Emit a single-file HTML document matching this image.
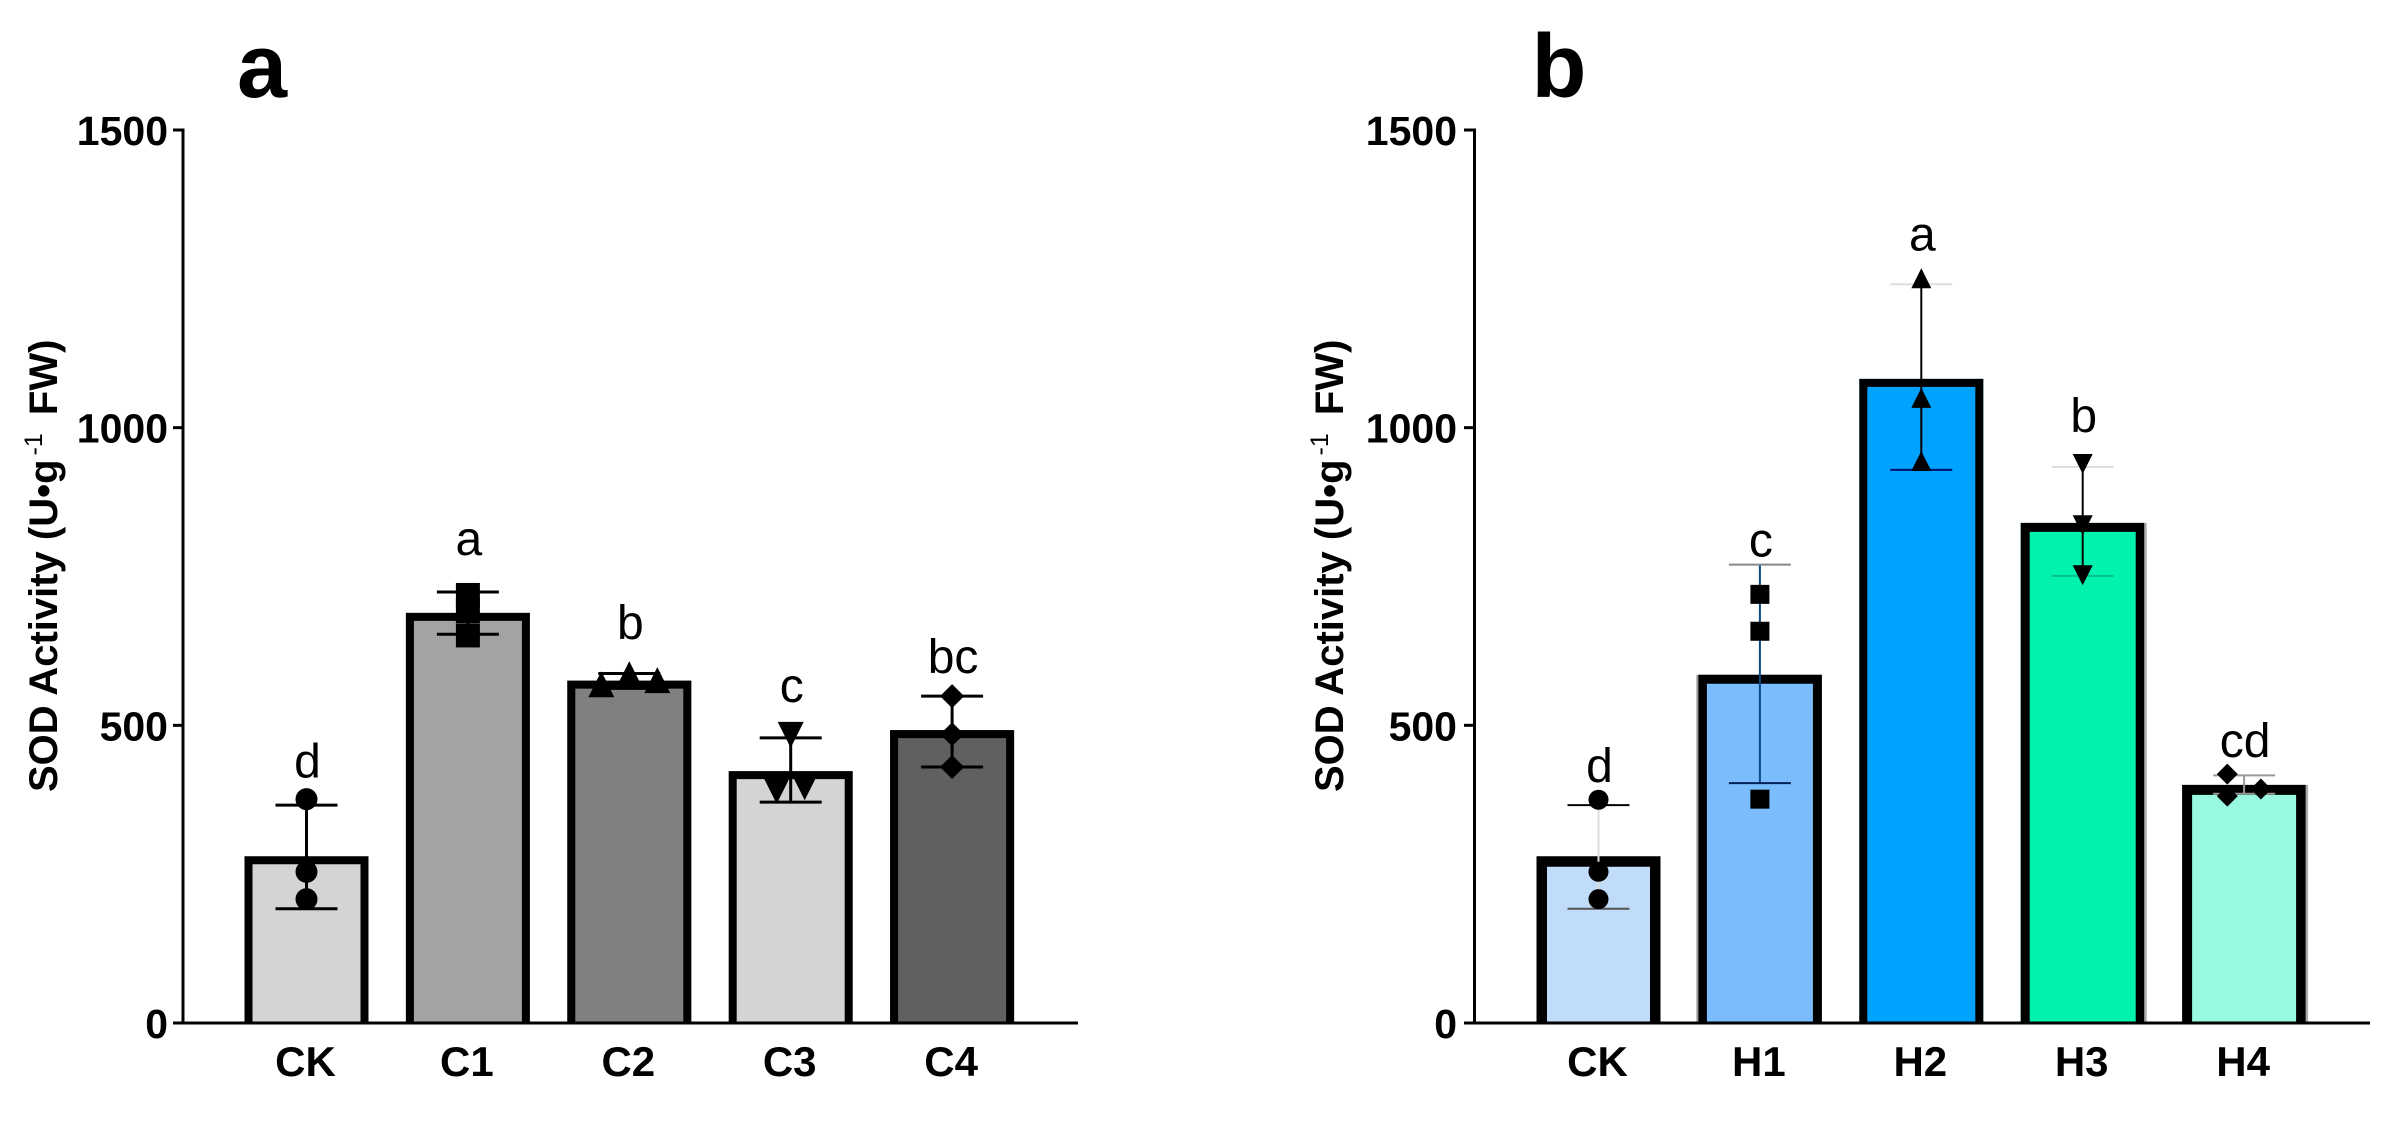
<!DOCTYPE html>
<html lang="en">
<head>
<meta charset="utf-8">
<title>SOD Activity bar charts</title>
<style>
html,body{margin:0;padding:0;background:#fff;width:2401px;height:1126px;overflow:hidden}
svg{display:block}
text{font-family:"Liberation Sans",Arial,sans-serif;fill:#000}
.tick{font-size:41px;font-weight:700;text-anchor:end}
.cat{font-size:42px;font-weight:700;text-anchor:middle}
.letter{font-size:48px;text-anchor:middle}
.title{font-size:40px;font-weight:700}
.panel{font-size:90px;font-weight:700;text-anchor:middle}
</style>
</head>
<body>
<svg id="figure" xmlns="http://www.w3.org/2000/svg" width="2401" height="1126" viewBox="0 0 2401 1126">
  <rect width="2401" height="1126" fill="#ffffff"/>
  <text class="panel" x="262" y="97">a</text>
  <text class="panel" x="1559" y="97">b</text>
  <text class="title" transform="translate(57 792) rotate(-90)">SOD Activity (U•g<tspan font-size="25" font-weight="400" dx="4" dy="-15">-1</tspan><tspan dx="7" dy="15"> FW)</tspan></text>
  <text class="title" transform="translate(1343 792) rotate(-90)">SOD Activity (U•g<tspan font-size="25" font-weight="400" dx="4" dy="-15">-1</tspan><tspan dx="7" dy="15"> FW)</tspan></text>
  <g id="chart-a"></g>
  <g id="chart-b"></g>
</svg>
<script>
// ---- shared axis values ----
const yTickValues = [0, 500, 1000, 1500];
const yMax = 1500;

// ---- panel a values ----
const categoriesA = ['CK', 'C1', 'C2', 'C3', 'C4'];
const meansA = [280, 689, 575, 423, 492];
const errorHighA = [366, 724, 587, 479, 549];
const errorLowA = [192, 653, 562, 371, 430];
const pointsA = [[376, 254, 208], [719, 692, 651], [569, 586, 576], [484, 390, 396], [549, 485, 430]];
const pointJitterA = [[0, 0, 0], [0, 0, 0], [-1, 0, 1], [0, -0.5, 0.5], [0, 0, 0]];
const lettersA = ['d', 'a', 'b', 'c', 'bc'];
const letterLevelsA = [412, 786, 645, 539, 588];

// ---- panel b values ----
const categoriesB = ['CK', 'H1', 'H2', 'H3', 'H4'];
const meansB = [280, 585, 1082, 840, 400];
const errorHighB = [366, 770, 1241, 934, 416];
const errorLowB = [192, 403, 929, 751, 385];
const pointsB = [[375, 254, 208], [720, 658, 376], [1251, 1050, 944], [939, 836, 752], [418, 381, 393]];
const pointJitterB = [[0, 0, 0], [0, 0, 0], [0, 0, 0], [0, 0, 0], [-0.6, -0.6, 0.6]];
const lettersB = ['d', 'c', 'a', 'b', 'cd'];
const letterLevelsB = [405, 784, 1298, 993, 447];

// ---- styling (not data) ----
const markerShapes = ['circle', 'square', 'triangle-up', 'triangle-down', 'diamond'];
const fillsA = ['#d4d4d4', '#a3a3a6', '#808080', '#d4d4d4', '#606060'];
const fillsB = ['#c0dcf8', '#7abcfc', '#00a2ff', '#00f2ae', '#98f8e0'];
const layoutA = {
  axisX: 183, tickStart: 173, xEnd: 1078, firstCenter: 306.5, borders: [8, 8, 8, 8, 8], errWidth: 3,
  circleR: 11, squareSize: 24, triSize: 26, diamondR: 12, tickRight: 167, stepJitter: 28,
  stemColors: ['#000', '#000', '#000', '#000', '#000'],
  topCapColors: ['#000', '#000', '#000', '#000', '#000'],
  lowCapColors: ['#000', '#000', '#000', '#000', '#000'],
  edgeLeft: [null, null, null, null, null],
  edgeRight: [null, null, null, null, null]
};
const layoutB = {
  axisX: 1474.5, tickStart: 1464, xEnd: 2370, firstCenter: 1598.5, borders: [10.5, 9, 8, 9, 10], errWidth: 2,
  circleR: 10, squareSize: 19, triSize: 20, diamondR: 10.5, tickRight: 1456, stepJitter: 28,
  stemColors: ['#dddddd', '#0a4a80', '#000', '#000', '#999999'],
  topCapColors: ['#000', '#888888', '#dddddd', '#dddddd', '#999999'],
  lowCapColors: ['#555555', '#04205a', '#04106a', '#00c090', '#999999'],
  edgeLeft: [null, '#999999', null, null, null],
  edgeRight: [null, null, null, '#aaaaaa', '#aaaaaa']
};

// ---- scales ----
const axisBottom = 1023;
const axisTop = 130;
const bandStep = 161.4;
const barWidth = 124;
const capHalf = 31;
const NS = 'http://www.w3.org/2000/svg';

function yScale(v) { return axisBottom - v * (axisBottom - axisTop) / yMax; }
function xBand(i, layout) { return layout.firstCenter + i * bandStep; }

function make(tag, attrs, parent) {
  const el = document.createElementNS(NS, tag);
  for (const k in attrs) el.setAttribute(k, attrs[k]);
  parent.appendChild(el);
  return el;
}

function drawMarker(shape, cx, cy, layout, parent) {
  let el;
  if (shape === 'circle') {
    el = make('circle', { cx: cx, cy: cy, r: layout.circleR, fill: '#000' }, parent);
  } else if (shape === 'square') {
    const s = layout.squareSize;
    el = make('rect', { x: cx - s / 2, y: cy - s / 2, width: s, height: s, fill: '#000' }, parent);
  } else if (shape === 'triangle-up') {
    const s = layout.triSize / 2;
    el = make('polygon', { points: (cx - s) + ',' + (cy + s) + ' ' + (cx + s) + ',' + (cy + s) + ' ' + cx + ',' + (cy - s), fill: '#000' }, parent);
  } else if (shape === 'triangle-down') {
    const s = layout.triSize / 2;
    el = make('polygon', { points: (cx - s) + ',' + (cy - s) + ' ' + (cx + s) + ',' + (cy - s) + ' ' + cx + ',' + (cy + s), fill: '#000' }, parent);
  } else {
    const r = layout.diamondR;
    el = make('polygon', { points: cx + ',' + (cy - r) + ' ' + (cx + r) + ',' + cy + ' ' + cx + ',' + (cy + r) + ' ' + (cx - r) + ',' + cy, fill: '#000' }, parent);
  }
  
  
}

function drawPanel(root, categories, means, errHigh, errLow, points, jitter, letters, letterLevels, fills, layout) {
  // bars
  categories.forEach(function (cat, i) {
    const cx = xBand(i, layout);
    const top = yScale(means[i]);
    const b = layout.borders[i];
    const left = cx - barWidth / 2;
    const right = cx + barWidth / 2;
    const g = make('g', {}, root);
    
    

    const bar = make('rect', {
      x: left, y: top,
      width: barWidth, height: axisBottom - top,
      fill: fills[i]
    }, g);
    
    

    const outline = make('path', {
      d: 'M' + (left + b / 2) + ' ' + axisBottom + 'V' + (top + b / 2) + 'H' + (right - b / 2) + 'V' + axisBottom,
      fill: 'none', stroke: '#000', 'stroke-width': b
    }, g);
    
    

    if (layout.edgeLeft[i]) {
      const edgeL = make('rect', { x: left - 1.5, y: top, width: 2, height: axisBottom - top, fill: layout.edgeLeft[i] }, g);
      
      
    }
    if (layout.edgeRight[i]) {
      const edgeR = make('rect', { x: right - 0.5, y: top, width: 2.5, height: axisBottom - top, fill: layout.edgeRight[i] }, g);
      
      
    }

    // error bars
    const yHi = yScale(errHigh[i]);
    const yLo = yScale(errLow[i]);
    const stem = make('line', { x1: cx, x2: cx, y1: yHi, y2: yLo, stroke: layout.stemColors[i], 'stroke-width': layout.errWidth }, g);
    
    
    const capHi = make('line', { x1: cx - capHalf, x2: cx + capHalf, y1: yHi, y2: yHi, stroke: layout.topCapColors[i], 'stroke-width': layout.errWidth }, g);
    
    
    const capLo = make('line', { x1: cx - capHalf, x2: cx + capHalf, y1: yLo, y2: yLo, stroke: layout.lowCapColors[i], 'stroke-width': layout.errWidth }, g);
    
    

    // points
    points[i].forEach(function (v, j) {
      drawMarker(markerShapes[i], cx + jitter[i][j] * layout.stepJitter, yScale(v), layout, g);
    });

    // significance letter
    const letter = make('text', { class: 'letter', x: cx + 1, y: yScale(letterLevels[i]) }, g);
    letter.textContent = letters[i];
    
    

    // category label
    const label = make('text', { class: 'cat', x: cx - 1, y: 1076 }, g);
    label.textContent = cat;
    
    
  });

  // axes
  const yAxis = make('line', { x1: layout.axisX, x2: layout.axisX, y1: axisTop - 1.5, y2: axisBottom + 1.5, stroke: '#000', 'stroke-width': 3 }, root);
  
  
  const xAxis = make('line', { x1: layout.axisX, x2: layout.xEnd, y1: axisBottom, y2: axisBottom, stroke: '#000', 'stroke-width': 3 }, root);
  
  

  yTickValues.forEach(function (t) {
    const y = yScale(t);
    const tick = make('line', { x1: layout.tickStart, x2: layout.axisX, y1: y, y2: y, stroke: '#000', 'stroke-width': 3 }, root);
    
    
    const lab = make('text', { class: 'tick', x: layout.tickRight + 1, y: y + 15 }, root);
    lab.textContent = String(t);
    
    
  });
}

drawPanel(document.getElementById('chart-a'), categoriesA, meansA, errorHighA, errorLowA, pointsA, pointJitterA, lettersA, letterLevelsA, fillsA, layoutA);
drawPanel(document.getElementById('chart-b'), categoriesB, meansB, errorHighB, errorLowB, pointsB, pointJitterB, lettersB, letterLevelsB, fillsB, layoutB);
</script>
</body>
</html>
